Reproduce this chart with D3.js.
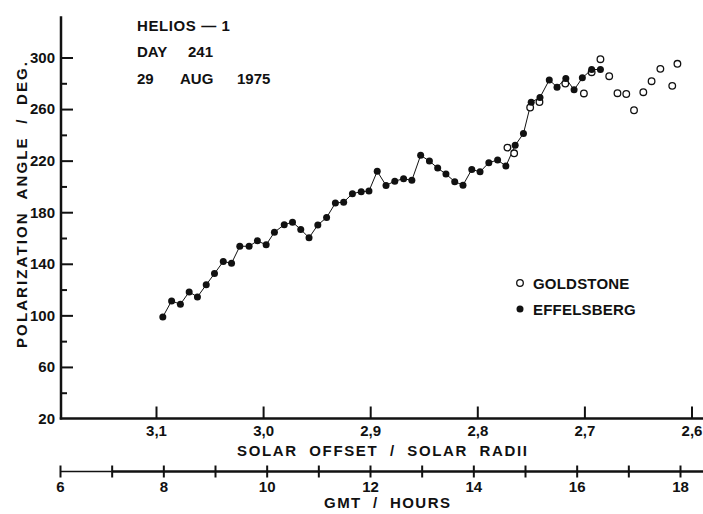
<!DOCTYPE html>
<html>
<head>
<meta charset="utf-8">
<script src="https://cdn.jsdelivr.net/npm/d3@7"></script>
<style>
  html, body { margin: 0; padding: 0; background: #fff; }
  svg { display: block; }
  text { font-family: "Liberation Sans", Arial, Helvetica, sans-serif; font-weight: bold; fill: #111; }
</style>
</head>
<body>
<svg id="chart" width="703" height="514"></svg>
<script>
// ---- Data ----
// Effelsberg: GMT (decimal hours) and polarization angle (deg)
const effGMT = [7.99, 8.16, 8.33, 8.50, 8.66, 8.83, 8.99, 9.16, 9.32, 9.48,
                9.66, 9.82, 9.99, 10.15, 10.34, 10.50, 10.66, 10.82, 10.99, 11.16,
                11.33, 11.49, 11.66, 11.83, 11.98, 12.14, 12.31, 12.48, 12.65, 12.81,
                12.98, 13.15, 13.31, 13.47, 13.64, 13.80, 13.97, 14.13, 14.30, 14.47,
                14.63, 14.81, 14.97, 15.12, 15.29, 15.47, 15.62, 15.79, 15.95, 16.11,
                16.29, 16.46];
const effAngle = [98.8, 111.2, 108.6, 118.2, 114.3, 123.7, 132.4, 141.8, 140.4, 153.6,
                  153.6, 157.8, 154.7, 164.5, 170.3, 172.3, 166.6, 160.2, 170.1, 175.9,
                  187.1, 187.8, 194.4, 195.9, 196.4, 211.7, 200.8, 204.1, 206.0, 204.7,
                  224.1, 219.7, 214.2, 209.6, 203.7, 201.0, 213.2, 211.3, 218.4, 220.5,
                  215.8, 231.9, 241.0, 265.3, 269.0, 282.6, 277.0, 283.7, 274.9, 284.2,
                  290.7, 290.7];
// Goldstone
const goldGMT = [14.66, 14.79, 15.10, 15.28, 15.78, 16.14, 16.29, 16.46, 16.63, 16.79,
                 16.96, 17.11, 17.29, 17.45, 17.62, 17.85, 17.95];
const goldAngle = [230.1, 225.7, 261.2, 265.5, 279.8, 272.1, 288.6, 298.7, 285.5, 272.3,
                   271.7, 259.1, 273.1, 281.6, 291.2, 278.0, 295.1];

// Axes ticks / labels
const yMajorTicks = [20, 60, 100, 140, 180, 220, 260, 300];
const yMinorTicks = [40, 80, 120, 160, 200, 240, 280];
const solarTicks = [3.1, 3.0, 2.9, 2.8, 2.7, 2.6];
const gmtTicks = [6, 7, 8, 9, 10, 11, 12, 13, 14, 15, 16, 17, 18];
const gmtLabelTicks = [6, 8, 10, 12, 14, 16, 18];
const annotation = [["HELIOS — 1"], ["DAY", "241"], ["29", "AUG", "1975"]];
const legendItems = ["GOLDSTONE", "EFFELSBERG"];
const yTitle = "POLARIZATION  ANGLE  /  DEG.";
const xTitle = "SOLAR  OFFSET  /  SOLAR  RADII";
const gmtTitle = "GMT  /  HOURS";

// ---- Scales ----
const svg = d3.select("#chart");
const y = d3.scaleLinear().domain([20, 300]).range([418.5, 57.5]);
const yTopValue = 332;                   // where the y axis line ends
const xGMT = d3.scaleLinear().domain([6, 18]).range([60, 680]);
const xSolar = d3.scaleLinear().domain([3.1, 2.6]).range([156, 691.5]);
const axisX0 = 61, rightEdge = 703, gmtY = 471.5;
const ink = "#111";

svg.append("rect").attr("width", 703).attr("height", 514).attr("fill", "#fff");

// ---- Y axis ----
const gy = svg.append("g").attr("transform", `translate(${axisX0},0)`);
gy.call(d3.axisLeft(y).tickValues(yMajorTicks).tickSizeInner(-12).tickSizeOuter(0).tickPadding(6)
  .tickFormat(d3.format("d")));
gy.select(".domain").remove();
gy.selectAll(".tick line").attr("stroke", ink).attr("stroke-width", 2);
gy.selectAll(".tick text").style("font-size", "15px").attr("fill", ink);
gy.selectAll(".tick").filter(d => d === 20).select("line").remove();
const gyMinor = svg.append("g").attr("transform", `translate(${axisX0},0)`);
gyMinor.call(d3.axisLeft(y).tickValues(yMinorTicks).tickSizeInner(-6).tickSizeOuter(0).tickFormat(""));
gyMinor.select(".domain").remove();
gyMinor.selectAll(".tick line").attr("stroke", ink).attr("stroke-width", 2);
svg.append("line").attr("x1", axisX0).attr("x2", axisX0)
  .attr("y1", y(20) + 1).attr("y2", y(yTopValue))
  .attr("stroke", ink).attr("stroke-width", 2.5);

// ---- Solar offset axis ----
const gx = svg.append("g").attr("transform", `translate(0,${y(20)})`);
gx.call(d3.axisBottom(xSolar).tickValues(solarTicks).tickSizeInner(-12).tickSizeOuter(0).tickPadding(7)
  .tickFormat(d => d3.format(".1f")(d).replace(".", ",")));
gx.select(".domain").remove();
gx.selectAll(".tick line").attr("stroke", ink).attr("stroke-width", 2);
gx.selectAll(".tick text").style("font-size", "15px").attr("fill", ink);
svg.append("line").attr("x1", axisX0 - 1.25).attr("x2", rightEdge)
  .attr("y1", y(20)).attr("y2", y(20)).attr("stroke", ink).attr("stroke-width", 2.5);
svg.append("text").attr("x", 382).attr("y", 456).attr("text-anchor", "middle")
  .style("font-size", "15px").attr("textLength", 290).attr("lengthAdjust", "spacing")
  .attr("xml:space", "preserve").text(xTitle);

// ---- GMT axis ----
svg.append("line").attr("x1", xGMT(6)).attr("x2", xGMT(7)).attr("y1", gmtY).attr("y2", gmtY)
  .attr("stroke", ink).attr("stroke-width", 1.6);
svg.append("line").attr("x1", xGMT(7)).attr("x2", rightEdge).attr("y1", gmtY).attr("y2", gmtY)
  .attr("stroke", ink).attr("stroke-width", 2.6);
const gt = svg.append("g").attr("transform", `translate(0,${gmtY - 6})`);
gt.call(d3.axisBottom(xGMT).tickValues(gmtTicks).tickSize(12).tickFormat(""));
gt.select(".domain").remove();
gt.selectAll(".tick line").attr("stroke", ink).attr("stroke-width", 2);
const gl = svg.append("g").attr("transform", `translate(0,${gmtY})`);
gl.call(d3.axisBottom(xGMT).tickValues(gmtLabelTicks).tickSize(0).tickPadding(10).tickFormat(d3.format("d")));
gl.select(".domain").remove();
gl.selectAll(".tick text").style("font-size", "15px").attr("fill", ink);
svg.append("text").attr("x", 387).attr("y", 508).attr("text-anchor", "middle")
  .style("font-size", "15px").attr("textLength", 126).attr("lengthAdjust", "spacing")
  .attr("xml:space", "preserve").text(gmtTitle);

// ---- Y title ----
svg.append("text").attr("transform", "translate(26.5,205) rotate(-90)")
  .attr("text-anchor", "middle").style("font-size", "15px")
  .attr("textLength", 286).attr("lengthAdjust", "spacing")
  .attr("xml:space", "preserve").text(yTitle);

// ---- Data marks ----
const eff = effGMT.map((t, i) => ({ t, v: effAngle[i] }));
const gold = goldGMT.map((t, i) => ({ t, v: goldAngle[i] }));
svg.append("path").datum(eff)
  .attr("d", d3.line().x(d => xGMT(d.t)).y(d => y(d.v)))
  .attr("fill", "none").attr("stroke", ink).attr("stroke-width", 1);
svg.append("g").selectAll("circle").data(gold).join("circle")
  .attr("cx", d => xGMT(d.t)).attr("cy", d => y(d.v)).attr("r", 3.3)
  .attr("fill", "#fff").attr("stroke", ink).attr("stroke-width", 1.3);
svg.append("g").selectAll("circle").data(eff).join("circle")
  .attr("cx", d => xGMT(d.t)).attr("cy", d => y(d.v)).attr("r", 3.5)
  .attr("fill", ink);

// ---- Annotation ----
const annX = [[137], [137, 188], [137, 180, 237]];
const annY = [31, 57, 84];
annotation.forEach((words, i) => {
  const t = svg.append("text").attr("y", annY[i]).style("font-size", "15px");
  words.forEach((w, j) => t.append("tspan").attr("x", annX[i][j]).text(w));
});
svg.select("text tspan").attr("letter-spacing", 0.6);

// ---- Legend ----
const legY = [283, 309];
legendItems.forEach((name, i) => {
  if (i === 0) {
    svg.append("circle").attr("cx", 520).attr("cy", legY[i]).attr("r", 3.3)
      .attr("fill", "#fff").attr("stroke", ink).attr("stroke-width", 1.3);
  } else {
    svg.append("circle").attr("cx", 520).attr("cy", legY[i]).attr("r", 3.5).attr("fill", ink);
  }
  svg.append("text").attr("x", 533).attr("y", legY[i] + 5.5).style("font-size", "15px")
    .attr("letter-spacing", 0.2).text(name);
});
</script>
</body>
</html>
